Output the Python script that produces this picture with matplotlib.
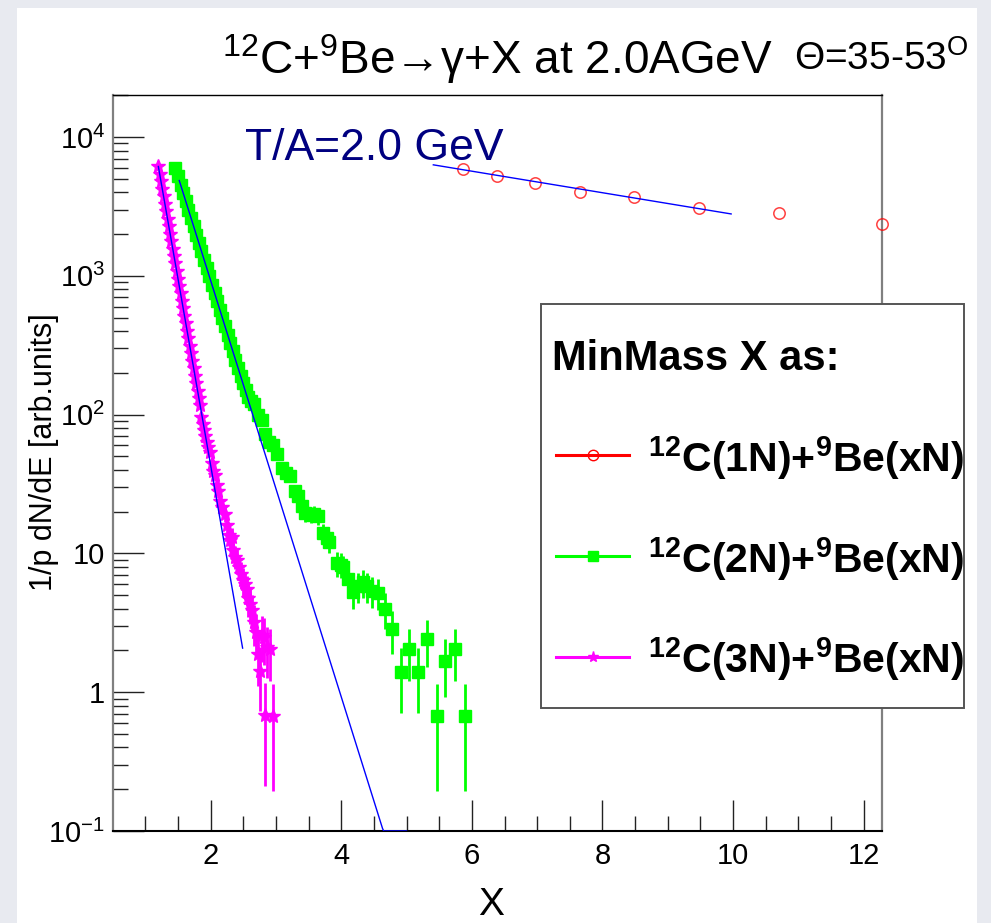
import numpy as np
import matplotlib
matplotlib.use('Agg')
import matplotlib.pyplot as plt
from matplotlib.patches import Rectangle
from matplotlib.lines import Line2D
from matplotlib.ticker import FixedLocator, FixedFormatter, MultipleLocator, LogLocator, NullFormatter

plt.rcParams['font.family'] = ['Liberation Sans', 'DejaVu Sans']
plt.rcParams['mathtext.fontset'] = 'custom'
plt.rcParams['mathtext.rm'] = 'Liberation Sans'
plt.rcParams['mathtext.it'] = 'Liberation Sans:italic'
plt.rcParams['mathtext.bf'] = 'Liberation Sans:bold'

# ---------------- data ----------------
# 12C(1N)+9Be(xN)
x_1n = [5.87, 6.38, 6.97, 7.66, 8.49, 9.48, 10.71, 12.28]
y_1n = [5900, 5260, 4700, 4030, 3690, 3070, 2855, 2366]

# 12C(2N)+9Be(xN)
x_2n = [1.46, 1.50, 1.54, 1.58, 1.62, 1.66, 1.70, 1.74, 1.78, 1.82,
        1.86, 1.90, 1.94, 1.98, 2.02, 2.06, 2.10, 2.14, 2.18, 2.22,
        2.26, 2.30, 2.34, 2.38, 2.42, 2.46, 2.50, 2.54, 2.58, 2.62,
        2.66, 2.72, 2.78, 2.84, 2.89, 2.96, 3.02, 3.09, 3.15, 3.21,
        3.29, 3.34, 3.40, 3.44, 3.53, 3.59, 3.65, 3.72, 3.78, 3.82,
        3.93, 3.99, 4.03, 4.10, 4.18, 4.25, 4.34, 4.40, 4.47, 4.57,
        4.67, 4.77, 4.92, 5.03, 5.18, 5.31, 5.46, 5.59, 5.74, 5.89]
y_2n = [5980, 5210, 4540, 3955, 3444, 3000, 2612, 2275, 1982, 1726,
        1503, 1309, 1140, 993, 865, 753, 656, 571, 498, 434,
        378, 329, 286, 249, 217, 189, 168, 150, 135, 126,
        120, 100, 91, 72, 63, 60, 52, 41, 38, 36,
        28, 26, 22, 19.5, 19, 19.3, 18.5, 14, 13, 12,
        8.5, 8.3, 8.0, 6.5, 5.3, 5.8, 6.2, 5.8, 5.4, 5.2,
        4.0, 2.85, 1.39, 2.04, 1.39, 2.42, 0.675, 1.68, 2.04, 0.675]
e_2n = [44.9, 41.9, 39.1, 36.5, 34.1, 31.8, 29.7, 27.7, 25.9, 24.1,
        22.5, 21.0, 19.6, 18.3, 17.1, 15.9, 14.9, 13.9, 13.0, 12.1,
        11.3, 10.5, 9.8, 9.2, 8.6, 8.0, 7.5, 7.1, 6.75, 6.5,
        6.4, 5.8, 5.5, 4.9, 4.6, 4.5, 4.2, 3.7, 3.6, 3.5,
        3.1, 3.0, 2.7, 2.6, 2.5, 2.55, 2.5, 2.2, 2.1, 2.0,
        1.7, 1.7, 1.6, 1.5, 1.3, 1.4, 1.45, 1.4, 1.35, 1.3,
        1.16, 0.98, 0.68, 0.83, 0.68, 0.9, 0.48, 0.75, 0.83, 0.48]

# 12C(3N)+9Be(xN)
x_3n = [1.20, 1.22, 1.24, 1.26, 1.28, 1.30, 1.32, 1.34, 1.36, 1.38,
        1.40, 1.42, 1.44, 1.46, 1.48, 1.50, 1.52, 1.54, 1.56, 1.58,
        1.60, 1.62, 1.64, 1.66, 1.68, 1.70, 1.72, 1.74, 1.76, 1.78,
        1.80, 1.82, 1.84, 1.86, 1.88, 1.90, 1.92, 1.94, 1.96, 1.99,
        2.02, 2.04, 2.07, 2.10, 2.12, 2.15, 2.18, 2.22, 2.25, 2.28,
        2.30, 2.32, 2.35, 2.38, 2.40, 2.43, 2.47, 2.50, 2.53, 2.55,
        2.58, 2.61, 2.63, 2.66, 2.70, 2.73, 2.75, 2.78, 2.81, 2.83,
        2.87, 2.91, 2.96]
y_3n = [6140, 5420, 4790, 4240, 3740, 3300, 2920, 2580, 2280, 2010,
        1780, 1570, 1390, 1230, 1080, 957, 845, 747, 661, 583,
        515, 455, 402, 356, 314, 277, 245, 216, 191, 169,
        149, 132, 118, 96, 86, 77, 70, 64, 58, 54,
        45, 39, 37, 31, 28, 24, 21.5, 19.3, 16, 13.5,
        12.4, 13.1, 10.5, 9.5, 8.9, 8.0, 7.1, 6.4, 6.0, 5.5,
        4.8, 4.3, 3.9, 3.2, 2.7, 1.9, 1.43, 2.6, 2.5, 0.69,
        2.1, 2.04, 0.675]
e_3n = [45.5, 42.8, 40.2, 37.8, 35.5, 33.4, 31.4, 29.5, 27.7, 26.0,
        24.5, 23.0, 21.7, 20.4, 19.1, 18.0, 16.9, 15.9, 14.9, 14.0,
        13.2, 12.4, 11.6, 11.0, 10.3, 9.7, 9.1, 8.5, 8.0, 7.6,
        7.1, 6.7, 6.3, 5.7, 5.4, 5.1, 4.9, 4.6, 4.4, 4.3,
        3.9, 3.6, 3.5, 3.2, 3.1, 2.85, 2.7, 2.55, 2.3, 2.1,
        2.05, 2.1, 1.9, 1.8, 1.7, 1.6, 1.55, 1.5, 1.4, 1.35,
        1.3, 1.2, 1.15, 1.05, 0.95, 0.8, 0.7, 0.94, 0.92, 0.48,
        0.84, 0.83, 0.48]

# exponential fits: (x_start, x_end, log10 y at x_start, slope in decades per unit X)
fit_1n = (5.41, 9.97, 3.80, -0.0776)
fit_2n = (1.52, 5.00, 3.687, -1.50)
fit_3n = (1.20, 2.49, 3.788, -2.69)

x_ticks = [2, 4, 6, 8, 10, 12]
y_ticks = [0.1, 1, 10, 100, 1000, 10000]
y_tick_labels = [r'$10^{-1}$', '1', '10', r'$10^{2}$', r'$10^{3}$', r'$10^{4}$']
series_labels = [r'$^{12}$C(1N)+$^{9}$Be(xN)', r'$^{12}$C(2N)+$^{9}$Be(xN)', r'$^{12}$C(3N)+$^{9}$Be(xN)']

# ---------------- figure ----------------
W, H = 991, 923
fig = plt.figure(figsize=(W / 100, H / 100), dpi=100)
fig.patch.set_facecolor('#e8eaf0')
fig.add_artist(Rectangle((17 / W, 0), 960 / W, (H - 8) / H, transform=fig.transFigure,
                         facecolor='white', edgecolor='none', zorder=0))

def fx(px):
    return px / W

def fy(py):
    return 1 - py / H

L, R, T, B = 113.3, 882.0, 95.3, 831.0
ax = fig.add_axes([fx(L), fy(B), (R - L) / W, (B - T) / H])
ax.set_facecolor('white')
ax.set_yscale('log')
ax.set_xlim(0.51, 12.28)
ax.set_ylim(0.1, 2e4)

RED, GREEN, MAG, BLUE = '#ff0000', '#00ff00', '#ff00ff', '#0000ff'

# data
ax.plot(x_1n, y_1n, 'o', mfc='none', mec=RED, ms=8.2, mew=1.1, alpha=0.75, clip_on=False, zorder=3)
ax.errorbar(x_2n, y_2n, yerr=e_2n, fmt='s', color=GREEN, ms=8.0, elinewidth=2, capsize=0, zorder=3)
ax.errorbar(x_3n, y_3n, yerr=e_3n, fmt='*', color=MAG, ms=10.0, elinewidth=2, capsize=0, zorder=3)

# fits
for (x0, x1, l0, k) in (fit_1n, fit_2n, fit_3n):
    xs = np.linspace(x0, x1, 200)
    ys = np.maximum(10 ** (l0 + k * (xs - x0)), 0.1)
    ax.plot(xs, ys, color=BLUE, lw=1.0, zorder=4)

# axes styling
for s in ('left', 'right'):
    ax.spines[s].set_color('#808080')
    ax.spines[s].set_linewidth(1.6)
ax.spines['top'].set_color('black')
ax.spines['top'].set_linewidth(1.0)
ax.spines['bottom'].set_color('black')
ax.spines['bottom'].set_linewidth(1.5)

ax.xaxis.set_major_locator(FixedLocator(x_ticks))
ax.xaxis.set_minor_locator(MultipleLocator(0.5))
ax.yaxis.set_major_locator(FixedLocator(y_ticks))
ax.yaxis.set_major_formatter(FixedFormatter(y_tick_labels))
ax.yaxis.set_minor_locator(LogLocator(base=10, subs=np.arange(2, 10)))
ax.yaxis.set_minor_formatter(NullFormatter())
ax.tick_params(which='both', direction='in', top=False, right=False, color='#222222')
ax.tick_params(which='major', length=22, width=1.0, labelsize=21)
ax.tick_params(which='minor', length=11, width=1.0)
ax.tick_params(axis='x', which='major', pad=8)
ax.tick_params(axis='y', which='major', pad=6)

# texts
fig.text(fx(222), fy(74), r'$^{12}$C+$^{9}$Be→γ+X at 2.0AGeV', fontsize=33, ha='left', va='baseline')
fig.text(fx(794), fy(70), r'Θ=35-53$^{\rm O}$', fontsize=28, ha='left', va='baseline')
fig.text(fx(245), fy(160), 'T/A=2.0 GeV', fontsize=32, color='#000080', ha='left', va='baseline')
fig.text(fx(491), fy(915), 'X', fontsize=28, ha='center', va='baseline')
fig.text(fx(44), fy(452), '1/p dN/dE [arb.units]', fontsize=22, rotation=90, ha='center', va='center')

# legend (drawn manually)
fig.add_artist(Rectangle((fx(540.7), fy(708)), (964 - 540.7) / W, (708 - 304) / H,
                         transform=fig.transFigure, facecolor='white', edgecolor='#555555',
                         lw=1.4, zorder=5))
fig.text(fx(552), fy(370), 'MinMass X as:', fontsize=30, fontweight='bold', ha='left',
         va='baseline', zorder=6)
leg_y = [455, 556, 657.3]
leg_base = [471.7, 573, 673]
leg_styles = [dict(marker='o', mfc='none', mec=RED, ms=7.5, mew=1.0, color=RED),
              dict(marker='s', mfc=GREEN, mec=GREEN, ms=7.5, color=GREEN),
              dict(marker='*', mfc=MAG, mec=MAG, ms=8, color=MAG)]
for ly, lb, st, lab in zip(leg_y, leg_base, leg_styles, series_labels):
    col = st.pop('color')
    fig.add_artist(Line2D([fx(556), fx(629)], [fy(ly), fy(ly)], transform=fig.transFigure,
                          color=col, lw=2.2, zorder=6))
    fig.add_artist(Line2D([fx(593)], [fy(ly)], transform=fig.transFigure, ls='none', zorder=7, **st))
    lab_b = lab.replace('$^{12}$', r'$^{\mathbf{12}}$').replace('$^{9}$', r'$^{\mathbf{9}}$')
    fig.text(fx(648), fy(lb), lab_b, fontsize=29.5, fontweight='bold', ha='left', va='baseline', zorder=6)

fig.savefig('out.png', dpi=100, facecolor=fig.get_facecolor())
